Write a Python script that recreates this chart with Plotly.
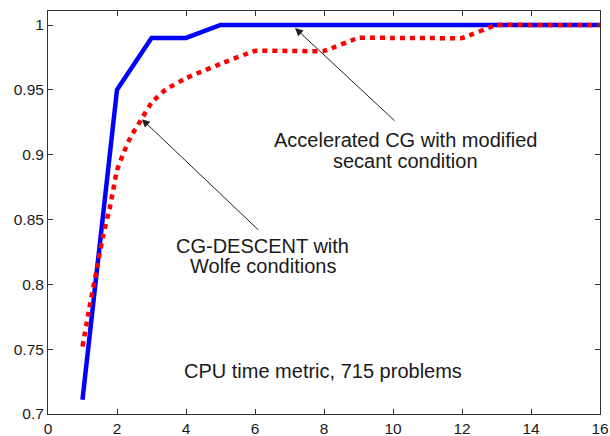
import plotly.graph_objects as go

blue_x = [1, 2, 3, 4, 5, 6, 8, 10, 12, 14, 16]
blue_y = [0.711, 0.95, 0.99, 0.99, 1.0, 1.0, 1.0, 1.0, 1.0, 1.0, 1.0]

red_x = [1, 1.2, 1.4, 1.6, 1.8, 2, 2.2, 2.4, 2.7, 3, 3.4, 4, 5, 6, 7, 8, 9, 10, 11, 12, 13, 14, 15, 16]
red_y = [0.752, 0.782, 0.81, 0.838, 0.86, 0.888, 0.902, 0.914, 0.927, 0.94, 0.95, 0.959, 0.97, 0.98, 0.98, 0.98,
         0.99, 0.99, 0.99, 0.99, 1.0, 1.0, 1.0, 1.0]

x_ticks = [0, 2, 4, 6, 8, 10, 12, 14, 16]
y_ticks = [0.7, 0.75, 0.8, 0.85, 0.9, 0.95, 1.0]
y_tick_text = ["0.7", "0.75", "0.8", "0.85", "0.9", "0.95", "1"]

accel_lines = ["Accelerated CG with modified", "secant condition"]
cg_lines = ["CG-DESCENT with", "Wolfe conditions"]
label_cpu = "CPU time metric, 715 problems"

fig = go.Figure()
fig.add_trace(go.Scatter(x=blue_x, y=blue_y, mode="lines",
                         line=dict(color="#0000ff", width=4.5), showlegend=False))
fig.add_trace(go.Scatter(x=red_x, y=red_y, mode="lines", line_shape="spline",
                         line=dict(color="#ff0000", width=4.5, dash="5px,5px", smoothing=0.3),
                         showlegend=False))

font = dict(family="Liberation Sans, Arial, sans-serif", size=20, color="#1a1a1a")

fig.add_annotation(x=7.16, y=0.9977, ax=10.09, ay=0.9251, axref="x", ayref="y",
                   text="", showarrow=True, arrowhead=2, arrowsize=1.6, arrowwidth=1,
                   arrowcolor="#222222")
fig.add_annotation(x=2.72, y=0.9274, ax=6.14, ay=0.8409, axref="x", ayref="y",
                   text="", showarrow=True, arrowhead=2, arrowsize=1.6, arrowwidth=1,
                   arrowcolor="#222222")

for txt, yy in zip(accel_lines, [0.9112, 0.895]):
    fig.add_annotation(x=10.35, y=yy, text=txt, showarrow=False, font=font, yanchor="middle")
for txt, yy in zip(cg_lines, [0.8293, 0.8139]):
    fig.add_annotation(x=6.23, y=yy, text=txt, showarrow=False, font=font, yanchor="middle")
fig.add_annotation(x=7.96, y=0.7328, text=label_cpu, showarrow=False, font=font,
                   yanchor="middle")

axis_common = dict(showgrid=False, zeroline=False, showline=True, linecolor="#333333",
                   linewidth=1, mirror="ticks", ticks="inside", ticklen=5,
                   tickcolor="#333333", automargin=False, ticklabeloverflow="allow",
                   tickfont=dict(family="Liberation Sans, Arial, sans-serif", size=15.5,
                                 color="#1a1a1a"))

fig.update_xaxes(range=[0, 16], tickvals=x_ticks, **axis_common)
fig.update_yaxes(range=[0.7, 1.0108], tickvals=y_ticks, ticktext=y_tick_text, **axis_common)

fig.update_layout(width=610, height=436, margin=dict(l=48, r=10, t=11, b=22),
                  plot_bgcolor="white", paper_bgcolor="white")

# remove the default 8px page margin so the figure fills the window exactly
fig.write_html("out.html", config={"displayModeBar": False},
               post_script="document.body.style.margin='0';")
